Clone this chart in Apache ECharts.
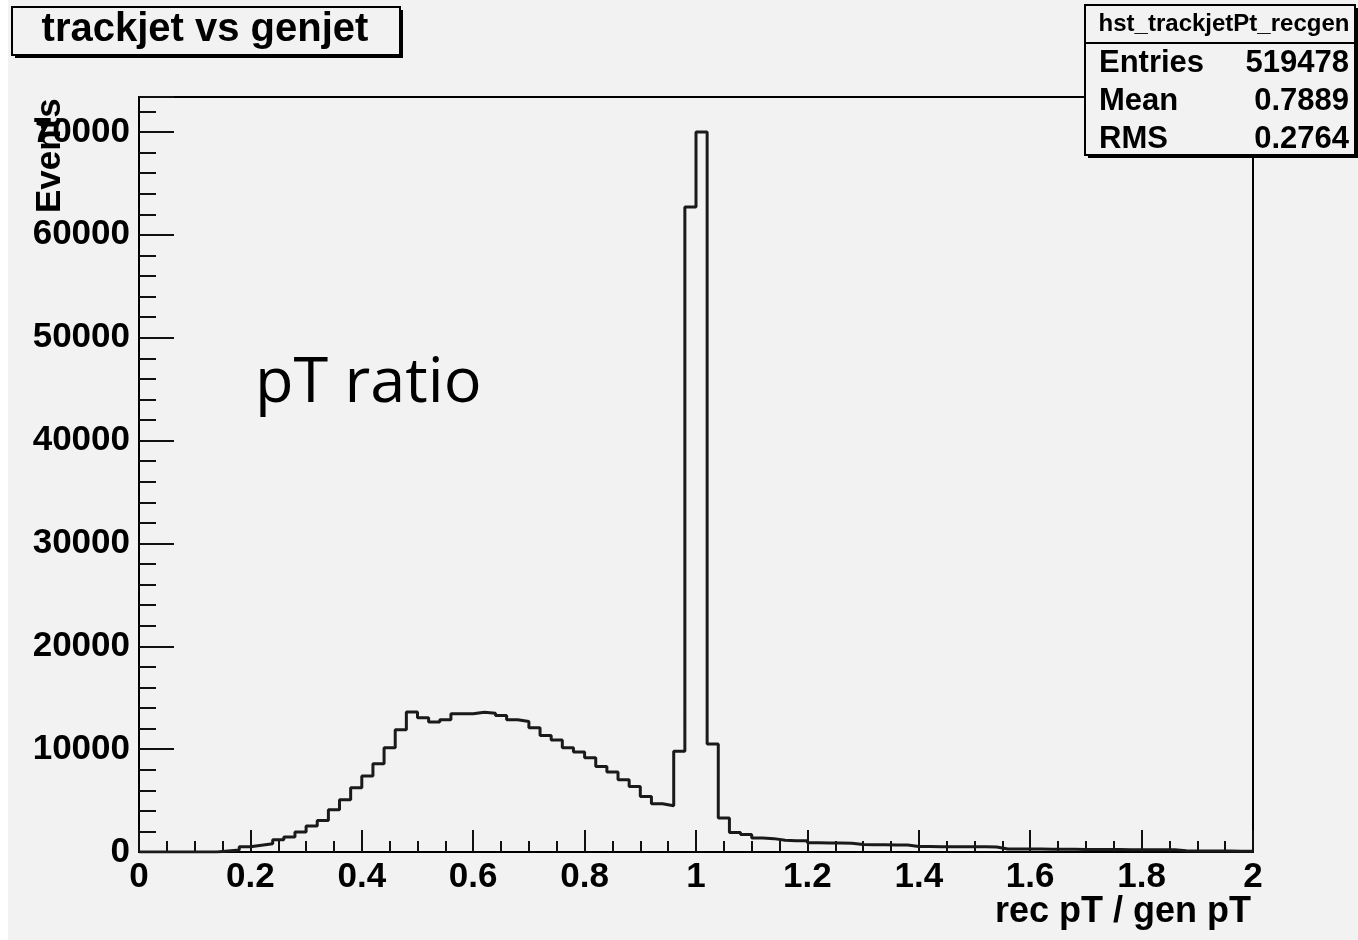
<!DOCTYPE html>
<html>
<head>
<meta charset="utf-8">
<script src="https://cdn.jsdelivr.net/npm/echarts@6/dist/echarts.min.js"></script>
<style>
html,body{margin:0;padding:0;background:#f2f2f2;}
#chart{width:1358px;height:940px;}
</style>
</head>
<body>
<div id="chart"></div>
<script>
// Histogram: 100 bins of width 0.02 from 0 to 2
const binLow = 0.0;
const binWidth = 0.02;
const counts = [
  0, 0, 0, 0, 0, 0, 0, 100, 200, 500,
  650, 800, 1200, 1450, 1950, 2520, 3070, 4110, 5080, 6250,
  7380, 8580, 10130, 11880, 13600, 13040, 12650, 12850, 13430, 13430,
  13590, 13490, 13270, 12850, 12690, 12070, 11330, 10900, 10130, 9710,
  9160, 8320, 7770, 7020, 6370, 5400, 4690, 4500, 9800, 62700,
  70000, 10500, 3300, 1900, 1700, 1350, 1300, 1150, 1100, 1100,
  900, 880, 870, 860, 720, 700, 700, 690, 680, 540,
  530, 520, 520, 510, 500, 500, 490, 300, 290, 280,
  280, 270, 260, 260, 250, 250, 240, 240, 230, 230,
  220, 220, 210, 110, 100, 100, 90, 90, 80, 80
];
const xTickLabels = ['0','0.2','0.4','0.6','0.8','1','1.2','1.4','1.6','1.8','2'];
const yTickLabels = ['0','10000','20000','30000','40000','50000','60000','70000'];
const titleText = 'trackjet vs genjet';
const statsName = 'hst_trackjetPt_recgen';
const statsLabels = ['Entries','Mean','RMS'];
const statsValues = ['519478','0.7889','0.2764'];
const xTitle = 'rec pT / gen pT';
const yTitle = 'Events';
const noteText = 'pT ratio';

const lineData = counts.map((c, i) => [+(binLow + i * binWidth).toFixed(4), c]);
lineData.push([+(binLow + counts.length * binWidth).toFixed(4), counts[counts.length - 1]]);

const BG = '#f2f2f2';
const FONT = 'Liberation Sans, Arial, Helvetica, sans-serif';

const chart = echarts.init(document.getElementById('chart'));
const xMajor = {
  type: 'value', min: 0, max: 2, interval: 0.2, position: 'bottom',
  axisLine: {show: true, onZero: false, lineStyle: {color: '#000', width: 2}},
  axisTick: {show: true, inside: true, length: 22, lineStyle: {color: '#111', width: 2}},
  axisLabel: {
    show: true, margin: 8, color: '#000', fontFamily: FONT, fontWeight: 'bold', fontSize: 35,
    formatter: function (v) {
      const idx = Math.round(v / 0.2);
      return Math.abs(v - idx * 0.2) < 1e-6 ? (xTickLabels[idx] || '') : '';
    }
  },
  splitLine: {show: false}
};
const xMinor = {
  type: 'value', min: 0, max: 2, interval: 0.05, position: 'bottom',
  axisLine: {show: false},
  axisTick: {show: true, inside: true, length: 11, lineStyle: {color: '#111', width: 2}},
  axisLabel: {show: false},
  splitLine: {show: false}
};
const yMajor = {
  type: 'value', min: 0, max: 73400, interval: 10000, position: 'left',
  axisLine: {show: true, onZero: false, lineStyle: {color: '#000', width: 2}},
  axisTick: {show: true, inside: true, length: 35, lineStyle: {color: '#111', width: 2}},
  axisLabel: {
    show: true, margin: 9, color: '#000', fontFamily: FONT, fontWeight: 'bold', fontSize: 35,
    formatter: function (v) {
      const idx = Math.round(v / 10000);
      return Math.abs(v - idx * 10000) < 1e-6 ? (yTickLabels[idx] || '') : '';
    }
  },
  splitLine: {show: false}
};
const yMinor = {
  type: 'value', min: 0, max: 73400, interval: 2000, position: 'left',
  axisLine: {show: false},
  axisTick: {show: true, inside: true, length: 17, lineStyle: {color: '#111', width: 2}},
  axisLabel: {show: false},
  splitLine: {show: false}
};

chart.setOption({
  animation: false,
  backgroundColor: BG,
  grid: {left: 139, right: 105, top: 97, bottom: 88, show: true,
         borderColor: '#000', borderWidth: 2, backgroundColor: 'transparent'},
  xAxis: [xMajor, xMinor],
  yAxis: [yMajor, yMinor],
  series: [{
    type: 'line', xAxisIndex: 0, yAxisIndex: 0, step: 'end',
    data: lineData, showSymbol: false, symbol: 'none',
    lineStyle: {color: '#1a1a1a', width: 3}
  }],
  graphic: [
    {type: 'rect', left: 0, top: 0, shape: {width: 8, height: 940}, style: {fill: '#ffffff'}, silent: true},
    // title box with shadow
    {type: 'rect', x: 15, y: 10, shape: {width: 388, height: 48}, style: {fill: '#000'}, z: 100},
    {type: 'rect', x: 12, y: 7, shape: {width: 388, height: 48}, style: {fill: BG, stroke: '#000', lineWidth: 2}, z: 101},
    {type: 'text', x: 205, y: 30, z: 102,
     style: {text: titleText, font: 'bold 40px ' + FONT, fill: '#000', textAlign: 'center', textVerticalAlign: 'middle'}},
    // stats box with shadow
    {type: 'rect', x: 1088, y: 8, shape: {width: 272, height: 150}, style: {fill: '#000'}, z: 100},
    {type: 'rect', x: 1085, y: 5, shape: {width: 270, height: 150}, style: {fill: BG, stroke: '#000', lineWidth: 2}, z: 101},
    {type: 'line', shape: {x1: 1085, y1: 43, x2: 1355, y2: 43}, style: {stroke: '#000', lineWidth: 2}, z: 102},
    {type: 'text', x: 1224, y: 24, z: 102,
     style: {text: statsName, font: 'bold 24px ' + FONT, fill: '#000', textAlign: 'center', textVerticalAlign: 'middle'}},
    {type: 'text', x: 1099, y: 63, z: 102,
     style: {text: statsLabels[0], font: 'bold 31px ' + FONT, fill: '#000', textAlign: 'left', textVerticalAlign: 'middle'}},
    {type: 'text', x: 1349, y: 63, z: 102,
     style: {text: statsValues[0], font: 'bold 31px ' + FONT, fill: '#000', textAlign: 'right', textVerticalAlign: 'middle'}},
    {type: 'text', x: 1099, y: 101, z: 102,
     style: {text: statsLabels[1], font: 'bold 31px ' + FONT, fill: '#000', textAlign: 'left', textVerticalAlign: 'middle'}},
    {type: 'text', x: 1349, y: 101, z: 102,
     style: {text: statsValues[1], font: 'bold 31px ' + FONT, fill: '#000', textAlign: 'right', textVerticalAlign: 'middle'}},
    {type: 'text', x: 1099, y: 139, z: 102,
     style: {text: statsLabels[2], font: 'bold 31px ' + FONT, fill: '#000', textAlign: 'left', textVerticalAlign: 'middle'}},
    {type: 'text', x: 1349, y: 139, z: 102,
     style: {text: statsValues[2], font: 'bold 31px ' + FONT, fill: '#000', textAlign: 'right', textVerticalAlign: 'middle'}},
    // axis titles
    {type: 'text', x: 1251, y: 912, z: 102,
     style: {text: xTitle, font: 'bold 36px ' + FONT, fill: '#000', textAlign: 'right', textVerticalAlign: 'middle'}},
    {type: 'text', x: 50, y: 213, rotation: Math.PI / 2, z: 102,
     style: {text: yTitle, font: 'bold 35px ' + FONT, fill: '#000', textAlign: 'left', textVerticalAlign: 'middle'}},
    // annotation
    {type: 'text', x: 255, y: 384, z: 102,
     style: {text: noteText, font: '63px "Open Sans", Lato, sans-serif', fill: '#000', textAlign: 'left', textVerticalAlign: 'middle'}}
  ]
});
</script>
</body>
</html>
